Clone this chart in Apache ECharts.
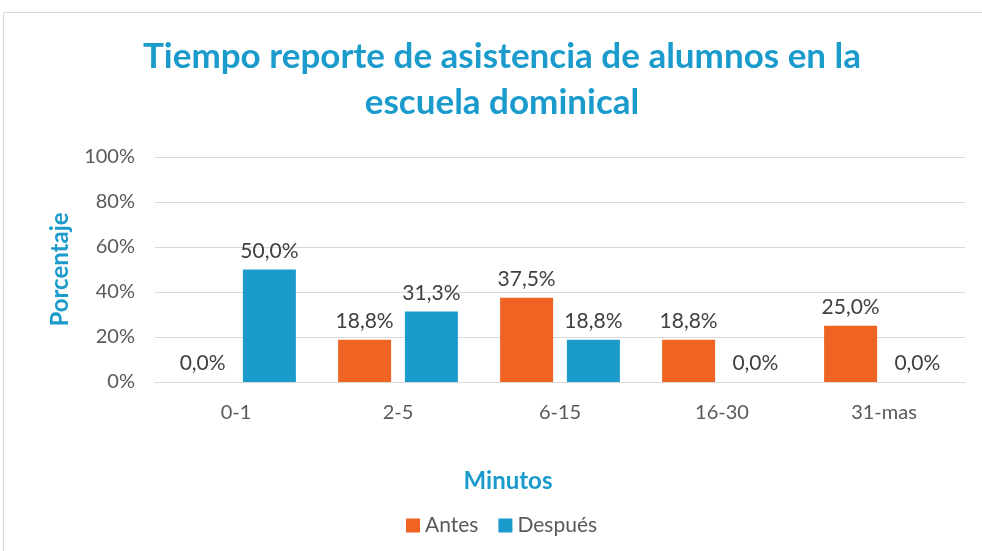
<!DOCTYPE html>
<html>
<head>
<meta charset="utf-8">
<script src="https://cdn.jsdelivr.net/npm/echarts@6/dist/echarts.min.js"></script>
<style>
  html, body { margin: 0; padding: 0; background: #fff; }
  #chart { width: 982px; height: 551px; }
</style>
</head>
<body>
<div id="chart"></div>
<script>
const categories = ['0-1', '2-5', '6-15', '16-30', '31-mas']
const antes = [0.0, 18.8, 37.5, 18.8, 25.0]
const despues = [50.0, 31.3, 18.8, 0.0, 0.0]
const seriesNames = ['Antes', 'Después']

const blue = '#1A9BCC'
const orange = '#F06423'
const textGray = '#595959'
const font = 'Lato'

const fmt = v => v.toFixed(1).replace('.', ',') + '%'

const chart = echarts.init(document.getElementById('chart'))

const barLabel = {
  show: true,
  position: 'top',
  distance: 8,
  color: '#404040',
  fontSize: 21,
  fontFamily: font,
  formatter: p => fmt(p.value),
}

chart.setOption({
  animation: false,
  textStyle: { fontFamily: font },
  graphic: [
    {
      type: 'rect',
      shape: { x: 3.5, y: 12.5, width: 990, height: 560 },
      style: { fill: 'none', stroke: '#d9d9d9', lineWidth: 1 },
      silent: true,
    },
  ],
  title: [
    {
      text: 'Tiempo reporte de asistencia de alumnos en la\nescuela dominical',
      left: 497,
      textAlign: 'center',
      top: 29,
      textStyle: {
        color: blue,
        fontSize: 35,
        fontWeight: 'bold',
        fontFamily: font,
        lineHeight: 46,
      },
    },
    {
      // x-axis title, centred on the chart area rather than the plot
      text: 'Minutos',
      left: 503,
      textAlign: 'center',
      top: 464,
      textStyle: { color: blue, fontSize: 24, fontWeight: 'bold', fontFamily: font },
    },
  ],
  legend: {
    data: seriesNames,
    top: 510,
    left: 401,
    itemWidth: 14,
    itemHeight: 14,
    itemGap: 20,
    icon: 'rect',
    textStyle: { color: textGray, fontSize: 21, fontFamily: font },
  },
  grid: {
    top: 157,
    left: 155,
    right: 17,
    bottom: 169,
  },
  xAxis: {
    type: 'category',
    data: categories,
    axisLine: { show: true, lineStyle: { color: '#d9d9d9' } },
    axisTick: { show: false },
    axisLabel: { color: textGray, fontSize: 20, margin: 21, fontFamily: font },
  },
  yAxis: {
    type: 'value',
    min: 0,
    max: 100,
    interval: 20,
    name: 'Porcentaje',
    nameLocation: 'middle',
    nameGap: 83,
    nameRotate: 90,
    nameTextStyle: { color: blue, fontSize: 24, fontWeight: 'bold', fontFamily: font },
    axisLine: { show: false },
    axisTick: { show: false },
    axisLabel: { color: textGray, fontSize: 20, margin: 20, formatter: '{value}%', fontFamily: font },
    splitLine: { show: true, lineStyle: { color: '#d9d9d9', width: 1 } },
  },
  series: [
    {
      name: seriesNames[0],
      type: 'bar',
      data: antes,
      barWidth: 53,
      barGap: '26%',
      itemStyle: { color: orange },
      label: barLabel,
    },
    {
      name: seriesNames[1],
      type: 'bar',
      data: despues,
      barWidth: 53,
      barGap: '26%',
      itemStyle: { color: blue },
      label: barLabel,
    },
  ],
})
</script>
</body>
</html>
